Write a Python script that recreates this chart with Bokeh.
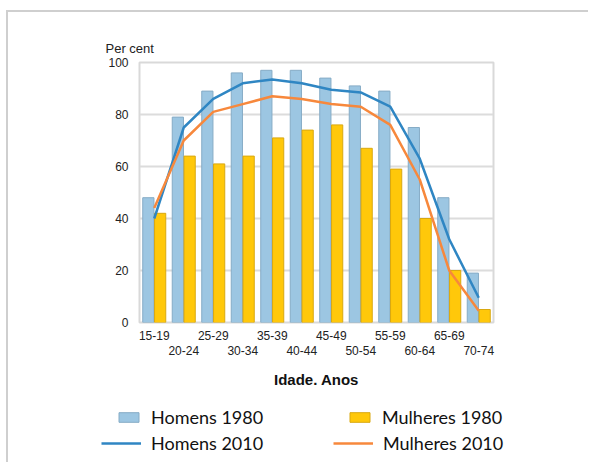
from bokeh.plotting import figure
from bokeh.layouts import column
from bokeh.models import (FixedTicker, LinearAxis, Legend, LegendItem, Range1d,
                          ColumnDataSource)
from bokeh.transform import dodge
from bokeh.embed import file_html
from bokeh.resources import INLINE

categories = ["15-19", "20-24", "25-29", "30-34", "35-39", "40-44",
              "45-49", "50-54", "55-59", "60-64", "65-69", "70-74"]
homens_1980 = [48, 79, 89, 96, 97, 97, 94, 91, 89, 75, 48, 19]
mulheres_1980 = [42, 64, 61, 64, 71, 74, 76, 67, 59, 40, 20, 5]
homens_2010 = [40, 75, 86, 92, 93.5, 92, 89.5, 88.5, 83, 63, 32, 9.5]
mulheres_2010 = [44, 70, 81, 84, 87, 86, 84, 83, 76, 55, 20, 4.5]
y_ticks = [0, 20, 40, 60, 80, 100]

xs = [i + 0.5 for i in range(len(categories))]
src = ColumnDataSource(dict(x=xs, cat=categories, h80=homens_1980, m80=mulheres_1980,
                            h10=homens_2010, m10=mulheres_2010))

TICK_FONT = "Liberation Sans"
LEG_FONT = "Lato"
BLUE_BAR = dict(fill_color="#9cc6e2", line_color="#86acc6", line_width=1)
YEL_BAR = dict(fill_color="#ffc80a", line_color="#d9a810", line_width=1)
BLUE_LINE = dict(line_color="#2f86c3", line_width=2.5)
ORANGE_LINE = dict(line_color="#f7883c", line_width=2.5)

chart = figure(width=580, height=390, output_backend="svg", toolbar_location=None,
               x_range=Range1d(0, len(categories)), y_range=Range1d(0, 100),
               x_axis_type=None, min_border_left=131, min_border_right=95,
               min_border_top=50, min_border_bottom=80)

chart.title.text = "Per cent"
chart.title.align = "left"
chart.title.offset = -34
chart.title.text_font = TICK_FONT
chart.title.text_font_size = "13px"
chart.title.text_font_style = "normal"
chart.title.text_color = "#222222"
chart.title.standoff = 13

chart.outline_line_color = "#d9d9d9"
chart.outline_line_width = 2

chart.yaxis.ticker = FixedTicker(ticks=y_ticks)
chart.yaxis.axis_line_color = None
chart.yaxis.major_tick_line_color = None
chart.yaxis.minor_tick_line_color = None
chart.yaxis.major_label_text_font = TICK_FONT
chart.yaxis.major_label_text_font_size = "12px"
chart.yaxis.major_label_text_color = "#222222"
chart.yaxis.major_label_standoff = 5

chart.ygrid.grid_line_color = "#dcdcdc"
chart.ygrid.grid_line_width = 2
chart.xgrid.ticker = FixedTicker(ticks=list(range(len(categories) + 1)))
chart.xgrid.grid_line_color = "#dcdcdc"
chart.xgrid.grid_line_width = 2

row1 = [xs[i] for i in range(0, len(xs), 2)]
row2 = [xs[i] for i in range(1, len(xs), 2)]
ax1 = LinearAxis(ticker=FixedTicker(ticks=row1),
                 major_label_overrides={xs[i]: categories[i] for i in range(0, len(xs), 2)})
ax2 = LinearAxis(ticker=FixedTicker(ticks=row2),
                 major_label_overrides={xs[i]: categories[i] for i in range(1, len(xs), 2)},
                 axis_label="Idade. Anos")
for ax, st in ((ax1, 2), (ax2, -3)):
    ax.axis_line_color = None
    ax.major_tick_line_color = None
    ax.minor_tick_line_color = None
    ax.major_label_text_font = TICK_FONT
    ax.major_label_text_font_size = "12px"
    ax.major_label_text_color = "#222222"
    ax.major_label_standoff = st
ax2.axis_label_text_font = TICK_FONT
ax2.axis_label_text_font_size = "15px"
ax2.axis_label_text_font_style = "bold"
ax2.axis_label_text_color = "#111111"
ax2.axis_label_standoff = 13
chart.add_layout(ax1, "below")
chart.add_layout(ax2, "below")

chart.vbar(x=dodge("x", -0.2), top="h80", width=0.38, source=src, **BLUE_BAR)
chart.vbar(x=dodge("x", 0.2), top="m80", width=0.38, source=src, **YEL_BAR)
chart.line(x="x", y="h10", source=src, **BLUE_LINE)
chart.line(x="x", y="m10", source=src, **ORANGE_LINE)

# legend strip: a second, axis-less figure whose view window shows none of the
# data, so only its legend is visible
legfig = figure(width=580, height=60, output_backend="svg", toolbar_location=None,
                x_range=chart.x_range, y_range=Range1d(200, 300),
                x_axis_type=None, y_axis_type=None, min_border=0)
legfig.frame_align = False
legfig.outline_line_color = None
legfig.xgrid.visible = False
legfig.ygrid.visible = False
r_b1 = legfig.vbar(x="x", top="h80", width=0.38, source=src, **BLUE_BAR)
r_b2 = legfig.vbar(x="x", top="m80", width=0.38, source=src, **YEL_BAR)
r_l1 = legfig.line(x="x", y="h10", source=src, **BLUE_LINE)
r_l2 = legfig.line(x="x", y="m10", source=src, **ORANGE_LINE)

def mk_legend(items, loc, gw, lw):
    return Legend(items=items, location=loc, orientation="horizontal",
                  glyph_width=gw, glyph_height=12, label_width=lw, spacing=10,
                  label_standoff=10, padding=0, margin=0,
                  border_line_color=None, background_fill_alpha=0,
                  label_text_font=LEG_FONT, label_text_font_size="18px",
                  label_text_color="#111111", label_height=26)

leg_a = mk_legend([LegendItem(label="Homens 1980", renderers=[r_b1]),
                   LegendItem(label="Mulheres 1980", renderers=[r_b2])],
                  (108, 32), 25, 186)
leg_b = mk_legend([LegendItem(label="Homens 2010", renderers=[r_l1]),
                   LegendItem(label="Mulheres 2010", renderers=[r_l2])],
                  (93, 6), 40, 172)
legfig.add_layout(leg_a, "center")
legfig.add_layout(leg_b, "center")

p = column(chart, legfig, spacing=0)
p.styles = {"border-left": "2px solid #cfcfcf", "border-top": "2px solid #cfcfcf",
            "margin-left": "6px", "margin-top": "10px"}

open("out.html", "w").write(file_html(p, INLINE))
